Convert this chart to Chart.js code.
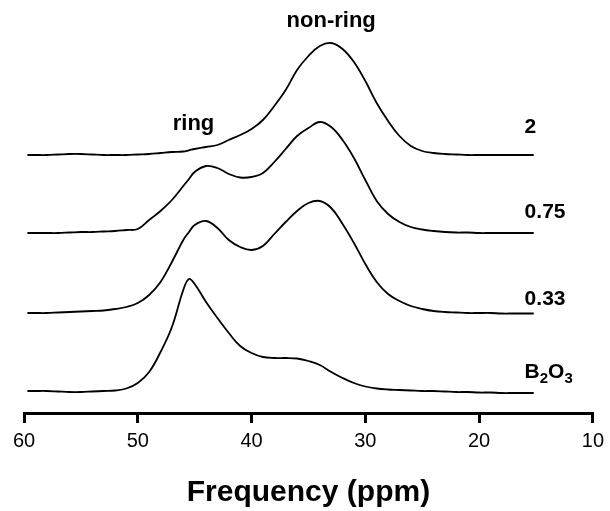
<!DOCTYPE html>
<html>
<head>
<meta charset="utf-8">
<script src="https://cdn.jsdelivr.net/npm/chart.js@4.4.1/dist/chart.umd.min.js"></script>
<style>
  html, body { margin: 0; padding: 0; background: #fff; }
  #wrap { width: 610px; height: 511px; }
</style>
</head>
<body>
<div id="wrap"><canvas id="chart-nmr" width="610" height="511"></canvas></div>
<script>
// chemical shift grid (ppm), shared by all four spectra
const ppm = [59.7, 59, 58, 57, 56, 55, 54, 53, 52, 51, 50, 49, 48, 47, 46, 45.5,
  45, 44, 43, 42, 41, 40, 39, 38, 37, 36, 35, 34, 33, 32, 31, 30, 29, 28, 27, 26,
  25, 24, 23, 22, 21, 20, 19, 18, 17, 16, 15.2];

// intensities above each trace's own baseline (arbitrary units)
const spec2 = [0, 0, 0, 0.5, 1, 1, 0.5, 0, 0, 0, 0.5, 1, 2, 3, 3.5, 4.7,
  6, 8, 10, 15, 20, 26, 35, 49, 65, 85, 99, 109, 112, 106, 93, 74, 52, 34, 19, 9,
  4, 2, 1, 0.5, 0, 0, 0, 0, 0, 0, 0];
const spec075 = [0, 0, 0, 0, 0.5, 1, 1, 1.5, 2, 3, 4, 13, 22, 33, 47, 54,
  61, 67, 65, 59, 55.5, 56, 60, 71, 84, 97, 105, 111, 106, 93, 75, 53, 32, 19, 11, 6,
  3.5, 2, 1, 0.5, 0.5, 0, 0, 0, 0, 0, 0];
const spec033 = [0, 0, 0, 0.5, 1, 1.5, 2, 2.5, 4, 6, 10, 18, 31, 51, 73, 81,
  88, 92, 85, 73, 66, 63, 67, 79, 91, 102, 110, 112, 105, 89, 70, 49, 31, 19, 12, 7,
  4, 2, 1, 0.5, 0, 0, 0, -0.5, -0.5, -0.5, -0.5];
const specB2O3 = [0, 0, 0, -0.5, -1, -1, -0.5, 0, 0.5, 2.5, 8, 19, 39, 64, 101, 112,
  107, 89, 73, 58, 45, 38, 34, 33, 33, 32.5, 30, 26, 19, 13, 8, 4.5, 2.5, 1.5, 1, 0.5,
  0, 0, -0.5, -1, -1, -1.5, -1.5, -2, -2, -2, -2];

const spectra = [spec2, spec075, spec033, specB2O3];
const seriesNames = ['2', '0.75', '0.33', 'B2O3'];
const offsets = [258, 180, 100, 22];        // stacking offset of each trace
const nameAnchorY = [280, 195, 108, 35];     // where the ratio label sits
const nameAnchorPpm = 16.0;

const xTicks = [60, 50, 40, 30, 20, 10];
const peakNotes = [
  { text: 'ring', ppm: 45.1, y: 283 },
  { text: 'non-ring', ppm: 33.0, y: 386 },
];

const FONT = "'Liberation Sans', Arial, Helvetica, sans-serif";

const annotate = {
  id: 'annotate',
  afterDatasetsDraw(chart) {
    const { ctx, scales: { x, y } } = chart;
    ctx.save();
    ctx.fillStyle = '#000';
    ctx.textBaseline = 'alphabetic';

    ctx.font = `bold 22px ${FONT}`;
    ctx.textAlign = 'center';
    peakNotes.forEach((n) => ctx.fillText(n.text, x.getPixelForValue(n.ppm), y.getPixelForValue(n.y)));

    ctx.textAlign = 'left';
    seriesNames.forEach((name, i) => {
      let px = x.getPixelForValue(nameAnchorPpm);
      const py = y.getPixelForValue(nameAnchorY[i]);
      if (name === 'B2O3') {
        // chemical formula with subscripts
        const parts = [['B', false], ['2', true], ['O', false], ['3', true]];
        parts.forEach(([t, sub]) => {
          ctx.font = sub ? `bold 15px ${FONT}` : `bold 21px ${FONT}`;
          ctx.fillText(t, px, sub ? py + 5 : py);
          px += ctx.measureText(t).width;
        });
      } else {
        ctx.font = `bold 21px ${FONT}`;
        ctx.fillText(name, px, py);
      }
    });
    ctx.restore();
  },
};

const ctx = document.getElementById('chart-nmr').getContext('2d');
new Chart(ctx, {
  type: 'line',
  data: {
    datasets: spectra.map((vals, k) => ({
      label: seriesNames[k],
      data: ppm.map((p, i) => ({ x: p, y: offsets[k] + vals[i] })),
      borderColor: '#000',
      borderWidth: 1.8,
      pointRadius: 0,
      fill: false,
      tension: 0.4,
    })),
  },
  options: {
    responsive: false,
    animation: false,
    devicePixelRatio: 1,
    layout: { padding: { left: 24, right: 3, top: 0, bottom: 0 } },
    plugins: {
      legend: { display: false },
      tooltip: { enabled: false },
    },
    scales: {
      x: {
        type: 'linear',
        reverse: true,
        min: 10,
        max: 60,
        afterBuildTicks: (scale) => { scale.ticks = xTicks.map((v) => ({ value: v })); },
        ticks: {
          color: '#000',
          font: { family: FONT, size: 20 },
          padding: 6,
          maxRotation: 0,
        },
        grid: {
          drawOnChartArea: false,
          drawTicks: true,
          tickLength: 10,
          lineWidth: 3,
          color: '#000',
        },
        border: { display: true, color: '#000', width: 3 },
        title: {
          display: true,
          text: 'Frequency (ppm)',
          color: '#000',
          font: { family: FONT, size: 30, weight: 'bold' },
          padding: { top: 16, bottom: 0 },
        },
      },
      y: {
        display: false,
        min: 0,
        max: 413,
      },
    },
  },
  plugins: [annotate],
});
</script>
</body>
</html>
